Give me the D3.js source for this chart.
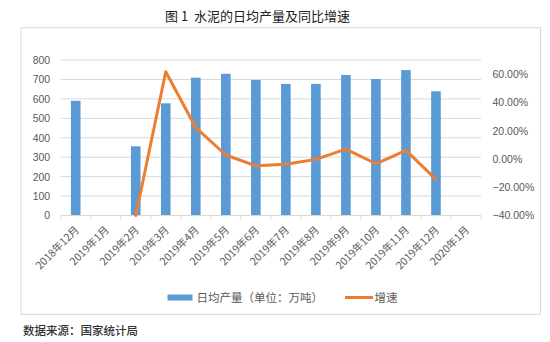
<!DOCTYPE html>
<html>
<head>
<meta charset="utf-8">
<script src="https://cdn.jsdelivr.net/npm/d3@7"></script>
<style>
  html, body { margin: 0; padding: 0; background: #fff; }
  svg { display: block; }
</style>
</head>
<body>
<svg id="chart" width="550" height="342"></svg>
<script>
const categories = ["2018年12月","2019年1月","2019年2月","2019年3月","2019年4月","2019年5月","2019年6月","2019年7月","2019年8月","2019年9月","2019年10月","2019年11月","2019年12月","2020年1月"];
const output = [590, null, 356, 577, 709, 729, 697, 677, 677, 723, 702, 748, 639, null];
const growth = [null, null, -0.40, 0.617, 0.221, 0.028, -0.048, -0.037, -0.003, 0.070, -0.034, 0.061, -0.144, null];
const leftTicks = [0, 100, 200, 300, 400, 500, 600, 700, 800];
const rightTicks = [-0.4, -0.2, 0, 0.2, 0.4, 0.6];
const titleText = "图 1  水泥的日均产量及同比增速";
const sourceText = "数据来源：国家统计局";
const legendBar = "日均产量（单位：万吨）";
const legendLine = "增速";

const svg = d3.select("#chart");
const L = 60.7, R = 481, T = 60, B = 215.5;
const gridColor = "#D9D9D9", textColor = "#595959";
const barColor = "#5B9BD5", lineColor = "#ED7D31";
const numFont = "'Liberation Sans', Arial, sans-serif";
const cjkFont = "'Noto Sans CJK SC', sans-serif";

// chart border
svg.append("rect").attr("x", 21).attr("y", 27.7).attr("width", 519.5).attr("height", 286.6)
  .attr("fill", "#fff").attr("stroke", gridColor).attr("stroke-width", 1);

// title
svg.append("text").attr("x", 257.5).attr("y", 20.5).attr("text-anchor", "middle")
  .style("white-space", "pre")
  .style("font-family", cjkFont).style("font-size", "13px").attr("fill", "#222").text(titleText);

// source
svg.append("text").attr("x", 23).attr("y", 335).style("font-family", cjkFont)
  .style("font-size", "11.5px").style("font-weight", "500").attr("fill", "#333").text(sourceText);

const x = d3.scaleBand().domain(categories).range([L, R]).padding(0);
const yL = d3.scaleLinear().domain([0, 800]).range([B, T]);
const yR = d3.scaleLinear().domain([-0.4, 0.7]).range([B, T]);

// gridlines
svg.append("g").selectAll("line").data(leftTicks.filter(d => d > 0)).join("line")
  .attr("x1", L).attr("x2", R).attr("y1", d => yL(d)).attr("y2", d => yL(d))
  .attr("stroke", gridColor).attr("stroke-width", 1);

// left axis
const gl = svg.append("g").attr("transform", `translate(${L},0)`)
  .call(d3.axisLeft(yL).tickValues(leftTicks).tickSize(0).tickPadding(10.5));
gl.select(".domain").remove();
gl.selectAll("text").style("font-family", numFont).style("font-size", "10.5px").attr("fill", textColor);

// right axis
const gr = svg.append("g").attr("transform", `translate(${R},0)`)
  .call(d3.axisRight(yR).tickValues(rightTicks).tickFormat(d3.format(".2%")).tickSize(0).tickPadding(11.5));
gr.select(".domain").remove();
gr.selectAll("text").style("font-family", numFont).style("font-size", "10.5px").attr("fill", textColor);

// bars
const bw = x.bandwidth() * 0.32;
svg.append("g").selectAll("rect").data(categories.map((c, i) => ({c, v: output[i]})).filter(d => d.v != null))
  .join("rect")
  .attr("x", d => x(d.c) + x.bandwidth() / 2 - bw / 2)
  .attr("width", bw)
  .attr("y", d => yL(d.v))
  .attr("height", d => yL(0) - yL(d.v))
  .attr("fill", barColor);

// x axis line and ticks
const gx = svg.append("g");
gx.append("line").attr("x1", L).attr("x2", R).attr("y1", B).attr("y2", B).attr("stroke", gridColor).attr("stroke-width", 1);
const tickPos = categories.map(c => x(c)).concat([x.range()[1]]);
gx.selectAll("line.tk").data(tickPos).join("line").attr("class", "tk")
  .attr("x1", d => d).attr("x2", d => d).attr("y1", B).attr("y2", B + 4)
  .attr("stroke", gridColor).attr("stroke-width", 1);
gx.selectAll("text").data(categories).join("text")
  .attr("transform", d => `translate(${x(d) + x.bandwidth() / 2 + 4},${B + 15}) rotate(-45)`)
  .attr("text-anchor", "end")
  .style("font-family", cjkFont).style("font-size", "10.5px").attr("fill", textColor)
  .text(d => d);

// line
const lineData = categories.map((c, i) => ({c, v: growth[i]})).filter(d => d.v != null);
svg.append("path").datum(lineData)
  .attr("d", d3.line().x(d => x(d.c) + x.bandwidth() / 2).y(d => yR(d.v)))
  .attr("fill", "none").attr("stroke", lineColor).attr("stroke-width", 3)
  .attr("stroke-linejoin", "round").attr("stroke-linecap", "round");

// legend
const lg = svg.append("g");
lg.append("rect").attr("x", 167.5).attr("y", 294.5).attr("width", 25).attr("height", 6).attr("fill", barColor);
lg.append("text").attr("x", 196.5).attr("y", 297.5).attr("dy", "0.35em")
  .style("font-family", cjkFont).style("font-size", "11.5px").attr("fill", textColor).text(legendBar);
lg.append("line").attr("x1", 345).attr("x2", 373).attr("y1", 297.5).attr("y2", 297.5)
  .attr("stroke", lineColor).attr("stroke-width", 3);
lg.append("text").attr("x", 374.5).attr("y", 297.5).attr("dy", "0.35em")
  .style("font-family", cjkFont).style("font-size", "11.5px").attr("fill", textColor).text(legendLine);
</script>
</body>
</html>
